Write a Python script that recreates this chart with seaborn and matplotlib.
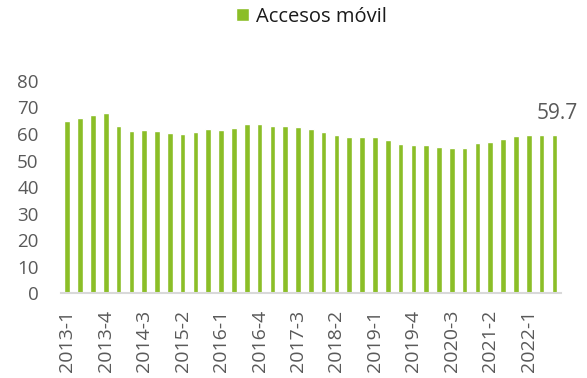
import matplotlib
matplotlib.use("Agg")
import matplotlib.pyplot as plt
import seaborn as sns
import pandas as pd

# Quarterly periods, 2013-1 .. 2022-3
quarters = [f"{y}-{q}" for y in range(2013, 2023) for q in range(1, 5)][:39]

# Mobile accesses per quarter
accesos_movil = [
    65.0, 66.0, 67.3, 67.9, 63.0, 61.1, 61.5, 61.2, 60.5, 60.1,
    60.9, 62.0, 61.6, 62.3, 63.9, 63.9, 63.2, 63.1, 62.5, 62.0,
    60.8, 59.6, 59.0, 58.9, 58.9, 57.9, 56.3, 56.0, 55.8, 55.2,
    54.8, 54.8, 56.6, 57.1, 58.0, 59.2, 59.6, 59.6, 59.7,
]

series_name = "Accesos móvil"
green = "#8BBE27"
text_grey = "#595959"

df = pd.DataFrame({"periodo": quarters, "valor": accesos_movil})

sns.set_theme(style="white")
plt.rcParams["font.family"] = ["Open Sans", "DejaVu Sans"]

fig = plt.figure(figsize=(5.87, 3.78), dpi=100)
ax = fig.add_axes([0.1037, 0.224, 0.8516, 0.562])

sns.barplot(data=df, x="periodo", y="valor", color=green, width=0.44,
            saturation=1, label=series_name, ax=ax)

ax.set_ylim(0, 80)
ax.set_yticks(range(0, 81, 10))
ax.set_xlim(-0.5, len(quarters) - 0.5)
ax.set_xlabel("")
ax.set_ylabel("")

ticks = list(range(0, len(quarters), 3))
ax.set_xticks(ticks)
ax.set_xticklabels([quarters[i] for i in ticks], rotation=90)
ax.tick_params(axis="x", labelsize=14, colors=text_grey, length=0, pad=12)
ax.tick_params(axis="y", labelsize=13.5, colors=text_grey, length=0, pad=16)

for side in ("top", "right", "left"):
    ax.spines[side].set_visible(False)
ax.spines["bottom"].set_color("#D9D9D9")
ax.spines["bottom"].set_linewidth(1.5)

# Value label on the latest quarter
last = len(accesos_movil) - 1
ax.annotate(f"{accesos_movil[last]:.1f}", xy=(last, accesos_movil[last]),
            xytext=(2, 8), textcoords="offset points", ha="center", va="bottom",
            fontsize=15, color=text_grey)

# Series legend centred above the plot
handles, labels = ax.get_legend_handles_labels()
if ax.get_legend() is not None:
    ax.get_legend().remove()
fig.legend(handles, labels, loc="upper center", bbox_to_anchor=(0.53, 1.03),
           frameon=False, fontsize=14.5, labelcolor="#1A1A1A",
           handlelength=0.65, handleheight=0.65, handletextpad=0.35)

fig.savefig("out.png", dpi=100)
